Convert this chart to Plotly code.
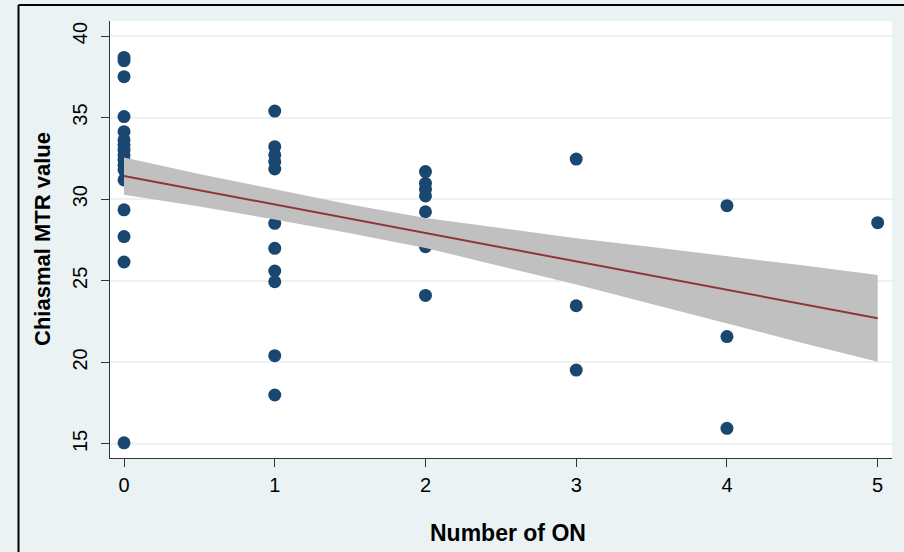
import plotly.graph_objects as go

# ---- data ----
on_count = ([0] * 17) + ([1] * 11) + ([2] * 7) + ([3] * 3) + ([4] * 3) + [5]
mtr_value = [
    38.69, 38.49, 37.51, 35.06, 34.14, 33.63, 33.33, 33.01, 32.71, 32.40,
    32.10, 31.80, 31.18, 29.35, 27.71, 26.15, 15.07,
    35.40, 33.22, 32.71, 32.30, 31.85, 28.52, 26.99, 25.60, 24.94, 20.41, 18.00,
    31.69, 30.97, 30.61, 30.20, 29.23, 27.09, 24.10,
    32.46, 23.47, 19.53,
    29.60, 21.58, 15.96,
    28.56,
]

fit_x = [0, 0.5, 1.0, 1.5, 2.0, 2.5, 3.0, 3.5, 4.0, 4.5, 5.0]
fit_y = [31.42, 30.55, 29.68, 28.80, 27.93, 27.06, 26.19, 25.32, 24.44, 23.57, 22.70]
ci_upper = [32.56, 31.55, 30.61, 29.68, 28.85, 28.21, 27.61, 27.07, 26.52, 25.95, 25.36]
ci_lower = [30.28, 29.55, 28.75, 27.92, 27.01, 25.91, 24.77, 23.57, 22.36, 21.19, 20.04]

x_ticks = [0, 1, 2, 3, 4, 5]
y_ticks = [15, 20, 25, 30, 35, 40]

BG = "#eaf2f3"
NAVY = "#1a476f"
MAROON = "#90353b"
BAND = "#c0c0c0"

fig = go.Figure()

fig.add_trace(go.Scatter(
    x=on_count, y=mtr_value, mode="markers",
    marker=dict(size=13, color=NAVY, line=dict(width=0)),
    showlegend=False, hoverinfo="x+y",
))
fig.add_trace(go.Scatter(
    x=fit_x, y=ci_lower, mode="lines", line=dict(width=0, color=BAND),
    showlegend=False, hoverinfo="skip",
))
fig.add_trace(go.Scatter(
    x=fit_x, y=ci_upper, mode="lines", line=dict(width=0, color=BAND),
    fill="tonexty", fillcolor=BAND, showlegend=False, hoverinfo="skip",
))
fig.add_trace(go.Scatter(
    x=fit_x, y=fit_y, mode="lines", line=dict(width=2, color=MAROON),
    showlegend=False,
))

L, R, T, B = 110, 12, 21, 94
W, H = 904, 552
pw = W - L - R
ph = H - T - B

def px_to_paper_x(px):
    return (px - L) / pw

def py_to_paper_y(py):
    return (H - B - py) / ph

border_x = px_to_paper_x(18.5)
border_y = py_to_paper_y(5)

fig.update_layout(
    width=W, height=H,
    margin=dict(l=L, r=R, t=T, b=B, pad=0),
    paper_bgcolor=BG, plot_bgcolor="white",
    font=dict(family="Liberation Sans, Arial, sans-serif", color="black"),
    xaxis=dict(
        range=[-0.093, 5.095], tickvals=x_ticks, ticktext=[str(v) for v in x_ticks],
        showgrid=False, zeroline=False,
        showline=True, linecolor="#333333", linewidth=1.2,
        ticks="outside", ticklen=8, tickwidth=1.2, tickcolor="#333333",
        tickfont=dict(size=20, color="black"), ticklabelstandoff=1,
    ),
    yaxis=dict(
        range=[14.14, 40.92], tickvals=y_ticks, ticktext=[str(v) for v in y_ticks],
        showgrid=True, gridcolor=BG, gridwidth=1.5, zeroline=False,
        showline=True, linecolor="#333333", linewidth=1.2,
        ticks="outside", ticklen=8, tickwidth=1.2, tickcolor="#333333",
        tickfont=dict(size=20, color="black"), tickangle=-90, ticklabelstandoff=6,
    ),
    annotations=[
        dict(text="<b>Number of ON</b>", xref="paper", yref="paper",
             x=px_to_paper_x(508), y=py_to_paper_y(533), showarrow=False,
             xanchor="center", yanchor="middle", font=dict(size=23, color="black")),
        dict(text="<b>Chiasmal MTR value</b>", xref="paper", yref="paper",
             x=px_to_paper_x(43), y=py_to_paper_y(239), showarrow=False,
             xanchor="center", yanchor="middle", textangle=-90,
             font=dict(size=22, color="black")),
    ],
    shapes=[
        dict(type="line", xref="paper", yref="paper",
             x0=border_x, x1=1.2, y0=border_y, y1=border_y,
             line=dict(color="black", width=2)),
        dict(type="line", xref="paper", yref="paper",
             x0=border_x, x1=border_x, y0=border_y, y1=-0.3,
             line=dict(color="black", width=2)),
    ],
)

fig.write_html(
    "out.html",
    config={"displayModeBar": False},
    post_script="document.body.style.margin='0';document.body.style.overflow='hidden';",
)
